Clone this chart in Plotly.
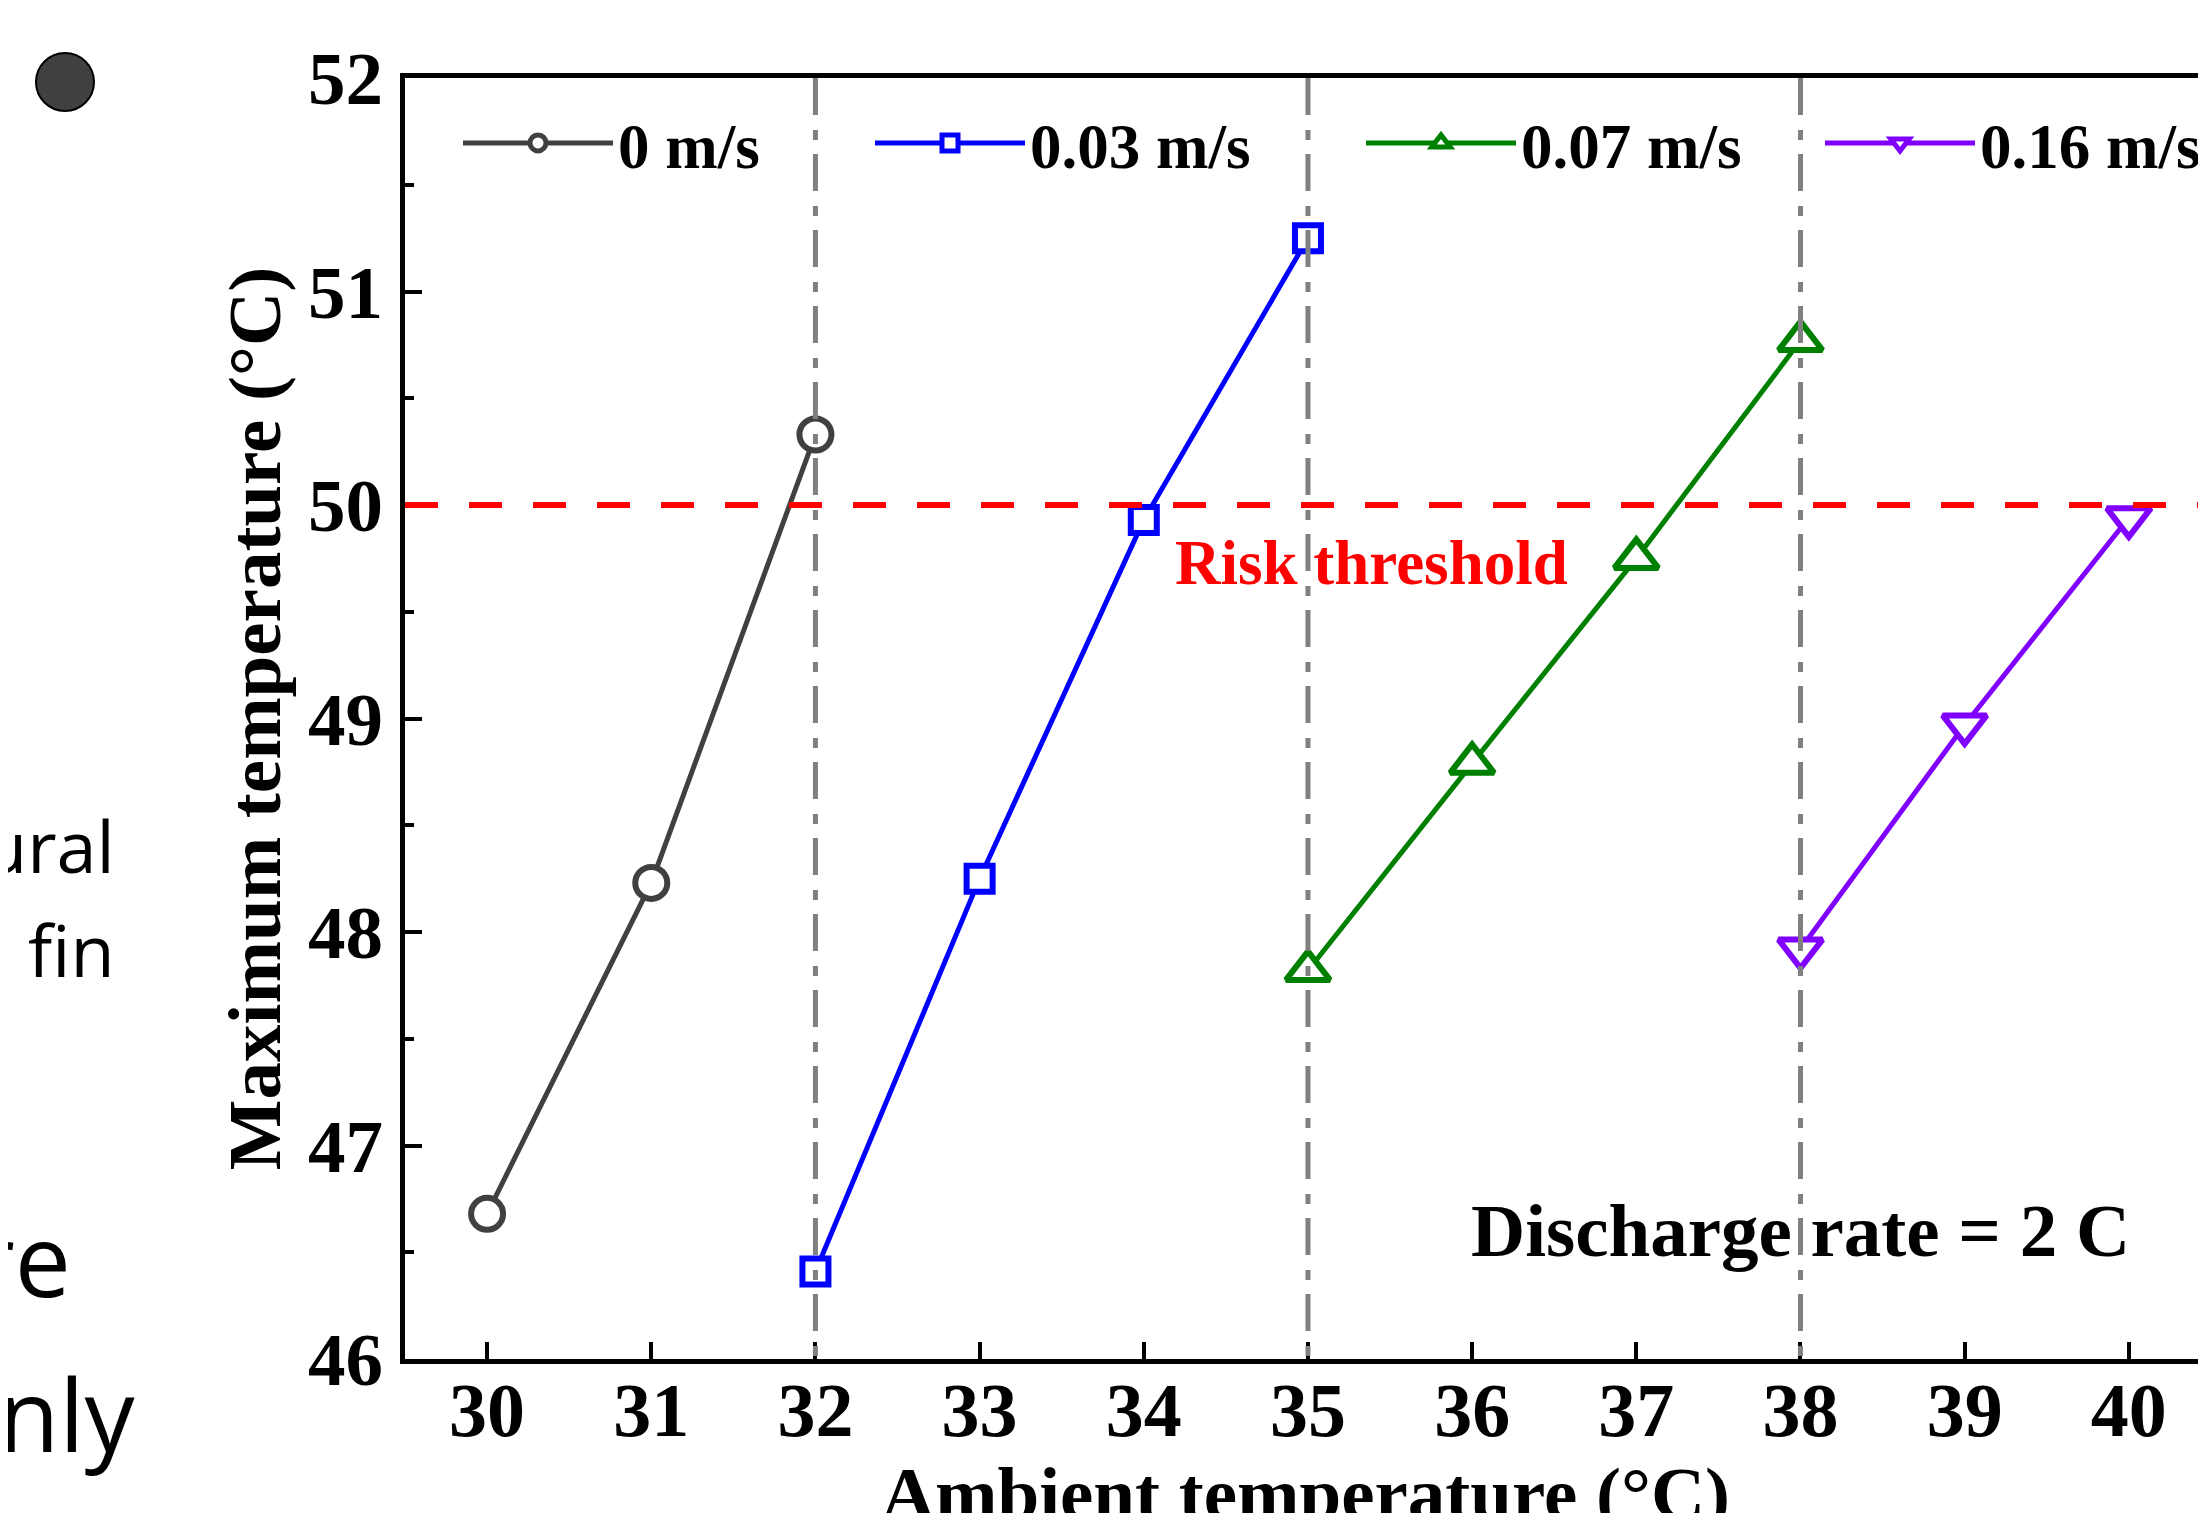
import plotly.graph_objects as go

# ---- data ----
x_0ms = [30, 31, 32]
y_0ms = [46.68, 48.23, 50.33]

x_003ms = [32, 33, 34, 35]
y_003ms = [46.41, 48.25, 49.93, 51.25]

x_007ms = [35, 36, 37, 38]
y_007ms = [47.82, 48.79, 49.75, 50.77]

x_016ms = [38, 39, 40]
y_016ms = [47.92, 48.97, 49.94]

series_names = ["0 m/s", "0.03 m/s", "0.07 m/s", "0.16 m/s"]
series_colors = ["#404040", "#0000FF", "#008000", "#8000FF"]
series_symbols = ["circle", "square", "triangle-up", "triangle-down"]
series_sizes = [32, 26, 38, 38]

x_ticks = [30, 31, 32, 33, 34, 35, 36, 37, 38, 39, 40]
y_ticks = [46, 47, 48, 49, 50, 51, 52]

boundary_x = [32, 35, 38]      # vertical dash-dot reference lines
risk_threshold = 50            # horizontal red dashed line

SERIF = "Liberation Serif, Times New Roman, serif"
SANS = "Open Sans, Noto Sans, sans-serif"

# page body has an 8px margin; plot area is placed so it lands at
# x 405..2206, y 78..1359 of the window
OFF = 8
EXTRA_B = 60          # figure continues below the window (title is cut there)
PL, PT, PB = 405, 78, 1359
PW = 2206 - PL
PH = PB - PT


def px_to_paper_x(px):
    return (px - PL) / PW


def px_to_paper_y(py):
    return (PB - py) / PH


fig = go.Figure()

xs = [x_0ms, x_003ms, x_007ms, x_016ms]
ys = [y_0ms, y_003ms, y_007ms, y_016ms]
legend_ids = ["legend", "legend2", "legend3", "legend4"]
for xv, yv, name, col, sym, sz, lg in zip(xs, ys, series_names, series_colors,
                                          series_symbols, series_sizes,
                                          legend_ids):
    fig.add_trace(go.Scatter(
        x=xv, y=yv, name=name, mode="lines+markers", legend=lg,
        showlegend=True,
        line=dict(color=col, width=5),
        marker=dict(symbol=sym, size=sz, color="white",
                    line=dict(color=col, width=6)),
        cliponaxis=False,
    ))

shapes = []
for bx in boundary_x:
    shapes.append(dict(type="line", xref="x", yref="paper", x0=bx, x1=bx,
                       y0=1, y1=0, layer="above",
                       line=dict(color="#808080", width=5,
                                 dash="37px,15px,10px,14px")))
shapes.append(dict(type="line", xref="paper", yref="y", x0=0, x1=1,
                   y0=risk_threshold, y1=risk_threshold, layer="above",
                   line=dict(color="#FF0000", width=6, dash="33px,31px")))
# slide bullet (part of the surrounding slide)
shapes.append(dict(type="circle", xref="paper", yref="paper",
                   xsizemode="pixel", ysizemode="pixel",
                   xanchor=px_to_paper_x(65), yanchor=px_to_paper_y(82),
                   x0=-29, x1=29, y0=-29, y1=29,
                   fillcolor="#404040", line=dict(color="black", width=2)))

annotations = [
    dict(text="Risk threshold", x=35.39, y=49.73, xref="x", yref="y",
         showarrow=False, font=dict(family=SERIF, size=63, color="#FF0000",
                                    weight="bold")),
    dict(text="Discharge rate = 2 C", x=38.0, y=46.6, xref="x", yref="y",
         showarrow=False, font=dict(family=SERIF, size=75, color="black",
                                    weight="bold")),
]
# fragments of the surrounding slide text (cut at the left edge)
slide_text = [("ural", 117, 845, 72), ("fin", 117, 949, 72),
              ("re", 73, 1258, 100), ("nly", 138, 1413, 100)]
for txt, px, py, fs in slide_text:
    annotations.append(dict(text=txt, xref="paper", yref="paper",
                            x=px_to_paper_x(px), y=px_to_paper_y(py),
                            xanchor="right", yanchor="middle", showarrow=False,
                            font=dict(family=SANS, size=fs, color="black")))

axis_common = dict(showline=True, linecolor="black", linewidth=5,
                   ticks="inside", ticklen=17, tickwidth=4, tickcolor="black",
                   showgrid=False, zeroline=False, automargin=False)

# legends: one per series so each entry sits where the reference has it
legend_text_px = [619, 1031, 1522, 1981]
ITEMW = 150
legend_layout = {}
for lg, tx in zip(legend_ids, legend_text_px):
    legend_layout[lg] = dict(
        orientation="h", x=px_to_paper_x(tx - ITEMW - 11),
        y=px_to_paper_y(143), xanchor="left", yanchor="middle",
        bgcolor="rgba(0,0,0,0)", itemwidth=ITEMW, visible=True,
        font=dict(family=SERIF, size=63, color="black", weight="bold"))

fig.update_layout(
    width=2206 - OFF, height=1513 - OFF + EXTRA_B,
    margin=dict(l=PL - OFF, r=0, t=PT - OFF, b=1513 - PB + EXTRA_B),
    paper_bgcolor="white", plot_bgcolor="white",
    showlegend=True,
    xaxis=dict(range=[29.5, 40.47], tickvals=x_ticks, mirror=True,
               ticklabelstandoff=-19,
               tickfont=dict(family=SERIF, size=76, color="black",
                             weight="bold"),
               title=dict(text="Ambient temperature (°C)", standoff=0,
                          font=dict(family=SERIF, size=75, color="black",
                                    weight="bold")),
               **axis_common),
    yaxis=dict(range=[46, 52], tickvals=y_ticks, mirror=False,
               ticklabelstandoff=2,
               tickfont=dict(family=SERIF, size=75, color="black",
                             weight="bold"),
               minor=dict(ticks="inside", ticklen=9, tickwidth=4,
                          tickcolor="black", dtick=0.5, showgrid=False),
               title=dict(text="Maximum temperature (°C)", standoff=4,
                          font=dict(family=SERIF, size=75, color="black",
                                    weight="bold")),
               **axis_common),
    shapes=shapes,
    annotations=annotations,
    **legend_layout,
)

fig.write_html("out.html")
